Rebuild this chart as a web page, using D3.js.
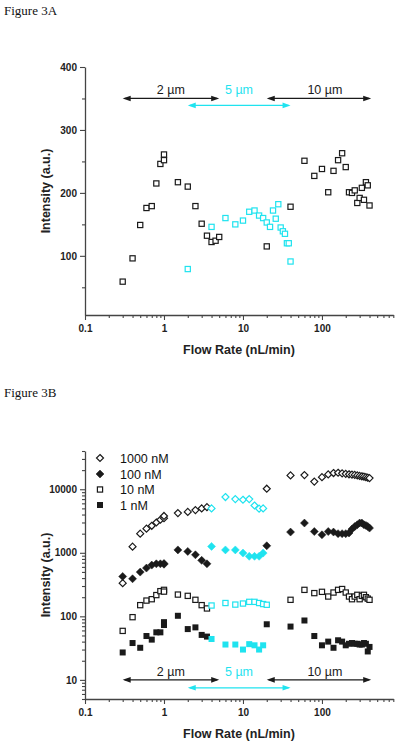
<!DOCTYPE html>
<html><head><meta charset="utf-8">
<script src="https://cdn.jsdelivr.net/npm/d3@7"></script>
<style>body{margin:0;background:#fff}</style>
</head><body>
<svg id="c" width="400" height="745"></svg>
<script>
// ---------- Figure 3A data ----------
const flowA_black = [0.3,0.4,0.5,0.6,0.7,0.8,0.9,1.0,1.0,1.5,2.0,2.5,3.0,3.5,4.0,4.5,5.0,20,40,60,80,100,120,140,160,180,200,220,240,260,280,300,320,340,360,380,400];
const intA_black  = [59,96,149,176,179,215,246,252,261,217,210,179,151,132,122,124,130,115,178,251,227,238,201,235,252,263,241,201,200,204,184,192,208,189,217,212,180];
const flowA_cyan  = [2,4,6,8,10,12,14,16,18,20,22,24,26,28,30,32,34,36,38,40];
const intA_cyan   = [79,146,160,150,156,170,172,164,160,153,146,172,159,182,145,139,135,120,120,91];
const yTicksA = [100,200,300,400];
const yMinorA = [50,150,250,350];

// ---------- Figure 3B data ----------
const flowB = [0.3,0.4,0.5,0.6,0.7,0.8,0.9,1.0,1.0,1.5,2.0,2.5,3.0,3.5,4,6,8,10,12,14,16,18,20,40,60,80,100,120,140,160,180,200,220,240,260,280,300,320,340,360,380,400];
// channel (µm) used for each flow rate
const channelB   = [2,2,2,2,2,2,2,2,2,2,2,2,2,2,5,5,5,5,5,5,5,5,10,10,10,10,10,10,10,10,10,10,10,10,10,10,10,10,10,10,10,10];
const channelB10 = [2,2,2,2,2,2,2,2,2,2,2,2,2,2,5,5,5,5,5,5,5,5,5,10,10,10,10,10,10,10,10,10,10,10,10,10,10,10,10,10,10,10];
const int1000 = [333,1250,2000,2400,2660,3000,3310,3500,3800,4220,4400,4700,5000,5220,5000,7540,7000,6840,7000,5550,4950,5000,10200,16500,16700,13200,15500,17100,18000,18200,17800,17500,17200,17000,16800,16500,16200,16000,15800,15500,15200,15000];
const int100  = [424,390,497,575,640,671,671,680,660,1110,1050,930,760,671,1260,1110,1110,990,880,880,880,990,1290,2120,2940,2160,1920,2160,2120,2000,2000,2000,2050,2360,2590,2760,2940,2940,2760,2700,2600,2450];
const int10   = [59,97,150,177,186,216,249,261,245,220,210,182,150,133,148,162,153,159,169,169,162,156,152,182,261,232,243,205,237,261,269,237,205,186,205,218,186,210,218,200,190,182];
const int1    = [27,38,32,49,43,56,56,73,81,102,63,67,51,48,44,36,36,30,36.5,35,30,35,75,69,86,49,35,40,32,42,40,35,37,38,37,37,36,36,38,37,28,33];
const seriesNames = ["1000 nM","100 nM","10 nM","1 nM"];
const yTicksB = [10,100,1000,10000];

// ---------- shared ----------
const xTicks = [0.1,1,10,100];
const xTickLabels = ["0.1","1","10","100"];
const xMinor = [0.2,0.3,0.4,0.5,0.6,0.7,0.8,0.9,2,3,4,5,6,7,8,9,20,30,40,50,60,70,80,90,200,300,400,500,600,700,800];
const arrowFrom  = [0.3,2,20];
const arrowTo    = [5,40,420];
const arrowLabel = ["2 µm","5 µm","10 µm"];
const arrowLabelAt = [1.22,8.9,109];
const arrowChannel = [2,5,10];

const BLACK = "#1a1a1a", CYAN = "#1fe3ef";
const colorOf = ch => ch === 5 ? CYAN : BLACK;

const svg = d3.select("#c");
const SANS = "'Liberation Sans', Arial, sans-serif";

const xA = d3.scaleLog().domain([0.1,800]).range([85,393.3]);
const yA = d3.scaleLinear().domain([6,400]).range([315,67]);
const xB = d3.scaleLog().domain([0.1,800]).range([85,393.3]);
const yB = d3.scaleLog().domain([5,40000]).range([699,451]);

function styleAxis(g){
  g.selectAll("path.domain").attr("stroke","#444").attr("stroke-width",1.3);
  g.selectAll(".tick line").attr("stroke","#444").attr("stroke-width",1.1);
  g.selectAll(".tick text").attr("font-family",SANS).attr("font-weight","bold").attr("font-size","10px").attr("fill","#222");
}

function drawAxes(x, y, yTicks, yFmt, x0, y0, title){
  // minor ticks
  svg.append("g").attr("transform",`translate(0,${y0})`)
    .call(d3.axisBottom(x).tickValues(xMinor).tickSize(3).tickSizeOuter(0).tickFormat(""))
    .call(g=>g.select("path.domain").remove()).call(styleAxis);
  const gx = svg.append("g").attr("transform",`translate(0,${y0})`)
    .call(d3.axisBottom(x).tickValues(xTicks).tickSize(5).tickSizeOuter(0).tickPadding(5)
      .tickFormat((d,i)=>xTickLabels[i]));
  styleAxis(gx);
  svg.append("text").attr("x",239).attr("y",y0+39).attr("text-anchor","middle")
    .attr("font-family",SANS).attr("font-weight","bold").attr("font-size","12.5px").attr("fill","#222")
    .text("Flow Rate (nL/min)");
  const gy = svg.append("g").attr("transform",`translate(${x0},0)`)
    .call(d3.axisLeft(y).tickValues(yTicks).tickSize(5).tickSizeOuter(0).tickPadding(3).tickFormat(yFmt));
  styleAxis(gy);
  const ymid = (y.range()[0]+y.range()[1])/2;
  svg.append("text").attr("transform",`translate(46,${ymid}) rotate(-90)`).attr("text-anchor","middle")
    .attr("dy","0.35em").attr("font-family",SANS).attr("font-weight","bold").attr("font-size","12.5px").attr("fill","#222")
    .text("Intensity (a.u.)");
}

function drawArrows(x, yBlack, yCyan, yLabel){
  const g = svg.append("g");
  arrowFrom.forEach((f,i)=>{
    const c = colorOf(arrowChannel[i]);
    const yy = arrowChannel[i]===5 ? yCyan : yBlack;
    const x1 = x(f), x2 = x(arrowTo[i]);
    const L = 8, H = 2.8;
    g.append("line").attr("x1",x1+2).attr("x2",x2-2).attr("y1",yy).attr("y2",yy)
      .attr("stroke",c).attr("stroke-width",1.2);
    g.append("path").attr("d",`M${x1},${yy}L${x1+L},${yy-H}L${x1+L},${yy+H}Z`).attr("fill",c);
    g.append("path").attr("d",`M${x2},${yy}L${x2-L},${yy-H}L${x2-L},${yy+H}Z`).attr("fill",c);
    g.append("text").attr("x",x(arrowLabelAt[i])).attr("y",yLabel).attr("text-anchor","middle")
      .attr("font-family",SANS).attr("font-size","12.5px").attr("fill",c).text(arrowLabel[i]);
  });
}

function marker(g, type, cx, cy, color){
  if (type==="sqOpen") {
    g.append("rect").attr("x",cx-2.6).attr("y",cy-2.6).attr("width",5.2).attr("height",5.2)
      .attr("fill","#fff").attr("stroke",color).attr("stroke-width",1.2);
  } else if (type==="sqFill") {
    g.append("rect").attr("x",cx-3).attr("y",cy-3).attr("width",6).attr("height",6).attr("fill",color);
  } else {
    const r = type==="diaOpen" ? 3.5 : 4;
    g.append("path").attr("d",`M${cx},${cy-r}L${cx+r},${cy}L${cx},${cy+r}L${cx-r},${cy}Z`)
      .attr("fill", type==="diaOpen" ? "#fff" : color)
      .attr("stroke",color).attr("stroke-width", type==="diaOpen" ? 1.2 : 0.5);
  }
}

// ---------- Figure labels ----------
svg.append("text").attr("x",4).attr("y",14.5).attr("font-family","'Liberation Serif','Times New Roman',serif")
  .attr("font-size","13px").attr("fill","#111").text("Figure 3A");
svg.append("text").attr("x",4).attr("y",397).attr("font-family","'Liberation Serif','Times New Roman',serif")
  .attr("font-size","13px").attr("fill","#111").text("Figure 3B");

// ---------- Figure 3A ----------
svg.append("g").attr("transform","translate(85,0)")
  .call(d3.axisLeft(yA).tickValues(yMinorA).tickSize(3).tickSizeOuter(0).tickFormat(""))
  .call(g=>g.select("path.domain").remove()).call(styleAxis);
drawAxes(xA, yA, yTicksA, d3.format("d"), 85, 315);
drawArrows(xA, yA(350), yA(339), yA(357));
const gA = svg.append("g");
flowA_black.forEach((f,i)=>marker(gA,"sqOpen",xA(f),yA(intA_black[i]),BLACK));
flowA_cyan.forEach((f,i)=>marker(gA,"sqOpen",xA(f),yA(intA_cyan[i]),CYAN));

// ---------- Figure 3B ----------
const minorB = [];
[1,10,100,1000,10000].forEach(d=>[2,3,4,5,6,7,8,9].forEach(m=>{const v=d*m; if(v>=5&&v<=40000) minorB.push(v);}));
svg.append("g").attr("transform","translate(85,0)")
  .call(d3.axisLeft(yB).tickValues(minorB).tickSize(3).tickSizeOuter(0).tickFormat(""))
  .call(g=>g.select("path.domain").remove()).call(styleAxis);
drawAxes(xB, yB, yTicksB, d3.format("d"), 85, 699);
drawArrows(xB, yB(10), yB(7.5), yB(11.6));

const gB = svg.append("g");
const seriesVals = [int1000, int100, int10, int1];
const seriesType = ["diaOpen","diaFill","sqOpen","sqFill"];
const seriesChan = [channelB, channelB, channelB10, channelB];
seriesVals.forEach((vals,s)=>{
  flowB.forEach((f,i)=>marker(gB, seriesType[s], xB(f), yB(vals[i]), colorOf(seriesChan[s][i])));
});

// legend
const legY = [458,474,489.5,505];
seriesNames.forEach((n,i)=>{
  marker(gB, seriesType[i], 100, legY[i], BLACK);
  gB.append("text").attr("x",120).attr("y",legY[i]).attr("dy","0.36em")
    .attr("font-family",SANS).attr("font-size","12.5px").attr("fill","#111").text(n);
});
</script>
</body></html>
